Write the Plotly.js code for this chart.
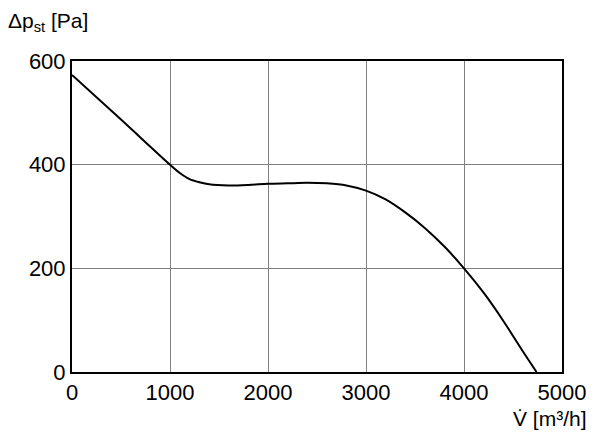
<!DOCTYPE html>
<html><head><meta charset="utf-8">
<script src="https://cdn.plot.ly/plotly-3.0.1.min.js"></script>
<style>body{margin:0;background:#fff}#chart{width:600px;height:435px}</style>
</head><body><div id="chart"></div>
<script>
const flow = [0, 500, 1000, 1100, 1200, 1300, 1400, 1600, 1800, 2000, 2200, 2400, 2600, 2800, 3000, 3200, 3400, 3600, 3800, 4000, 4200, 4400, 4600, 4740];
const pressure = [573, 487, 400, 384, 372, 366, 362, 360, 361, 363, 364, 365, 364, 360, 350, 333, 308, 278, 242, 200, 153, 99, 40, 0];
const xTicks = [0, 1000, 2000, 3000, 4000, 5000];
const yTicks = [0, 200, 400, 600];
const yTitle = 'Δp<sub>st</sub> [Pa]';
const xTitle = 'V̇ [m³/h]';

const font = 'Liberation Sans Narrow, Arial Narrow, Liberation Sans, sans-serif';
Plotly.newPlot('chart', [{
  x: flow, y: pressure, type: 'scatter', mode: 'lines',
  line: {color: '#000', width: 2, shape: 'spline', smoothing: 0.8},
  hoverinfo: 'skip'
}], {
  width: 600, height: 435,
  margin: {l: 72, r: 38, t: 61, b: 63},
  paper_bgcolor: '#fff', plot_bgcolor: '#fff',
  showlegend: false,
  font: {family: font, size: 22, color: '#000'},
  xaxis: {range: [0, 5000], tickvals: xTicks, ticktext: xTicks.map(String),
    showgrid: true, gridcolor: '#808080', gridwidth: 1,
    showline: true, linecolor: '#000', linewidth: 2, mirror: true,
    ticks: '', zeroline: false, fixedrange: true},
  yaxis: {range: [0, 600], tickvals: yTicks, ticktext: yTicks.map(String),
    showgrid: true, gridcolor: '#808080', gridwidth: 1,
    showline: true, linecolor: '#000', linewidth: 2, mirror: true,
    ticks: '', zeroline: false, fixedrange: true},
  annotations: [
    {text: yTitle, xref: 'paper', yref: 'paper', x: -0.135, y: 1.125, xanchor: 'left', yanchor: 'middle', showarrow: false, font: {family: font, size: 21}},
    {text: xTitle, xref: 'paper', yref: 'paper', x: 1.055, y: -0.148, xanchor: 'right', yanchor: 'middle', showarrow: false, font: {family: font, size: 21}}
  ]
}, {staticPlot: true});
</script></body></html>
